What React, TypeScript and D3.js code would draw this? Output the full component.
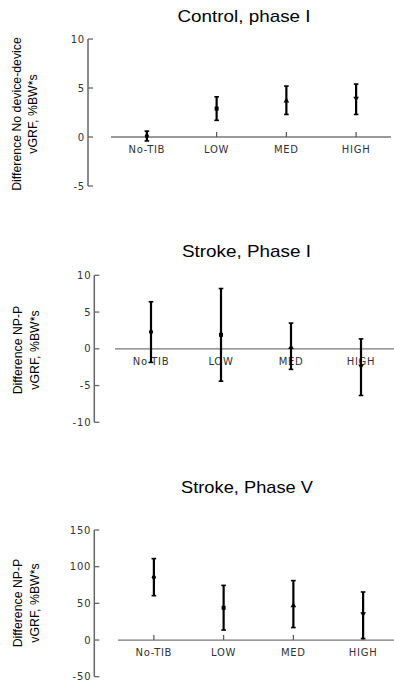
import React, { useEffect, useRef } from "react";
import * as d3 from "d3";

// categories on the x axis, shared by all three panels
const categories = ["No-TIB", "LOW", "MED", "HIGH"];

// Control, phase I
const controlMean = [0.1, 2.9, 3.7, 3.95];
const controlLow = [-0.4, 1.7, 2.3, 2.3];
const controlHigh = [0.6, 4.1, 5.2, 5.4];
const controlTicks = [-5, 0, 5, 10];

// Stroke, Phase I
const strokeIMean = [2.3, 1.9, 0.2, -2.35];
const strokeILow = [-1.85, -4.4, -2.8, -6.35];
const strokeIHigh = [6.4, 8.2, 3.5, 1.35];
const strokeITicks = [-10, -5, 0, 5, 10];

// Stroke, Phase V
const strokeVMean = [85.5, 44, 47, 35.5];
const strokeVLow = [60.5, 13.6, 17, 2];
const strokeVHigh = [111, 74.5, 81, 65.5];
const strokeVTicks = [-50, 0, 50, 100, 150];

const markers = [d3.symbolCircle, d3.symbolSquare, d3.symbolTriangle, d3.symbolTriangle];

const panels = [
  {
    title: "Control, phase I", titleX: 244, titleY: 21.5, titleW: 133,
    ylab1: "Difference No device-device", ylab2: "vGRF, %BW*s", ylabY: 114, ylabX1: 16.5, ylabX2: 33,
    mean: controlMean, lo: controlLow, hi: controlHigh, ticks: controlTicks,
    domain: [-5, 10], top: 39, bottom: 186, axisX: 88, x0: 112, x1: 391, lineEnd: 391,
  },
  {
    title: "Stroke, Phase I", titleX: 246.5, titleY: 256.5, titleW: 129,
    ylab1: "Difference NP-P", ylab2: "vGRF, %BW*s", ylabY: 350, ylabX1: 18, ylabX2: 34.5,
    mean: strokeIMean, lo: strokeILow, hi: strokeIHigh, ticks: strokeITicks,
    domain: [-10, 10], top: 275.3, bottom: 422.3, axisX: 94.3, x0: 116, x1: 396, lineEnd: 394,
  },
  {
    title: "Stroke, Phase V", titleX: 247, titleY: 493, titleW: 132,
    ylab1: "Difference NP-P", ylab2: "vGRF, %BW*s", ylabY: 603, ylabX1: 18, ylabX2: 34.5,
    mean: strokeVMean, lo: strokeVLow, hi: strokeVHigh, ticks: strokeVTicks,
    domain: [-50, 150], top: 530, bottom: 676.7, axisX: 94.3, x0: 119, x1: 398, lineEnd: 394,
  },
];

export default function App() {
  const ref = useRef<SVGSVGElement>(null);

  useEffect(() => {
    const svg = d3.select(ref.current);
    svg.selectAll("*").remove();

    panels.forEach((p) => {
      const g = svg.append("g");
      const y = d3.scaleLinear().domain(p.domain).range([p.bottom, p.top]);
      const x = d3.scaleBand().domain(categories).range([p.x0, p.x1]);
      const cx = (c: string) => (x(c) as number) + x.bandwidth() / 2;

      // title
      g.append("text")
        .attr("x", p.titleX).attr("y", p.titleY)
        .attr("text-anchor", "middle")
        .attr("textLength", p.titleW)
        .attr("lengthAdjust", "spacingAndGlyphs")
        .style("font-family", "Liberation Sans, Arial, sans-serif")
        .style("font-size", "17px")
        .text(p.title);

      // y label, two lines
      [[p.ylab1, p.ylabX1], [p.ylab2, p.ylabX2]].forEach(([t, lx]) => {
        g.append("text")
          .attr("transform", `translate(${lx},${p.ylabY}) rotate(-90)`)
          .attr("text-anchor", "middle")
          .attr("dy", "0.35em")
          .style("font-family", "Liberation Sans, Arial, sans-serif")
          .style("font-size", "12.3px")
          .text(t as string);
      });

      // category labels (behind the bars)
      g.selectAll(".cat").data(categories).enter().append("text")
        .attr("x", (d) => cx(d))
        .attr("y", y(0) + 16)
        .attr("text-anchor", "middle")
        .style("font-family", "DejaVu Sans, sans-serif")
        .style("font-size", "10px")
        .style("letter-spacing", "0.7px")
        .attr("fill", "#333")
        .text((d) => d);

      // y axis
      g.append("line")
        .attr("x1", p.axisX).attr("x2", p.axisX)
        .attr("y1", p.top).attr("y2", p.bottom)
        .attr("stroke", "#666").attr("stroke-width", 1.5);
      p.ticks.forEach((t) => {
        g.append("line")
          .attr("x1", p.axisX).attr("x2", p.axisX + 5)
          .attr("y1", y(t)).attr("y2", y(t))
          .attr("stroke", "#666").attr("stroke-width", 1.3);
        g.append("text")
          .attr("x", p.axisX - 3).attr("y", y(t))
          .attr("dy", "0.35em")
          .attr("text-anchor", "end")
          .style("font-family", "DejaVu Sans, sans-serif")
          .style("font-size", "10px")
          .style("letter-spacing", "0.8px")
          .attr("fill", "#333")
          .text(t);
      });

      // zero line with category ticks
      g.append("line")
        .attr("x1", p.x0 - 1).attr("x2", p.lineEnd)
        .attr("y1", y(0)).attr("y2", y(0))
        .attr("stroke", "#777").attr("stroke-width", 1.3);
      categories.forEach((c) => {
        g.append("line")
          .attr("x1", cx(c)).attr("x2", cx(c))
          .attr("y1", y(0)).attr("y2", y(0) - 5)
          .attr("stroke", "#555").attr("stroke-width", 1.2);
      });

      // error bars
      categories.forEach((c, i) => {
        const xc = cx(c);
        g.append("line")
          .attr("x1", xc).attr("x2", xc)
          .attr("y1", y(p.lo[i])).attr("y2", y(p.hi[i]))
          .attr("stroke", "#000").attr("stroke-width", 2.2);
        [p.lo[i], p.hi[i]].forEach((v) => {
          g.append("line")
            .attr("x1", xc - 2.3).attr("x2", xc + 2.3)
            .attr("y1", y(v)).attr("y2", y(v))
            .attr("stroke", "#000").attr("stroke-width", 1.6);
        });
        g.append("path")
          .attr("d", d3.symbol().type(markers[i]).size(i === 1 ? 16 : 14)() as string)
          .attr("transform", `translate(${xc},${y(p.mean[i])})${i === 3 ? " rotate(180)" : ""}`)
          .attr("fill", "#000");
      });
    });
  }, []);

  return (
    <svg
      ref={ref}
      width={394}
      height={681}
      style={{ position: "absolute", left: 0, top: 0, background: "#fff" }}
    />
  );
}
